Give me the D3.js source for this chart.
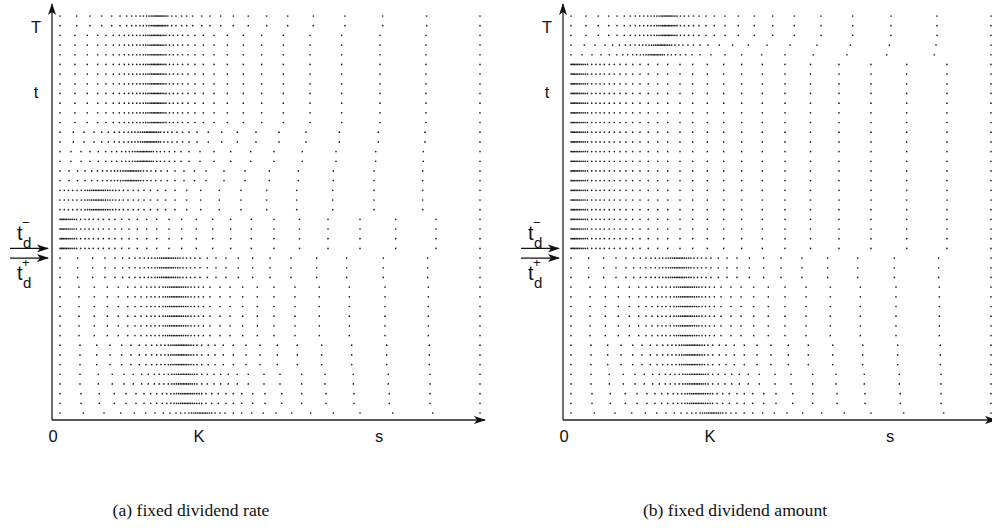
<!DOCTYPE html>
<html>
<head>
<meta charset="utf-8">
<script src="https://cdn.jsdelivr.net/npm/d3@7"></script>
<style>body{margin:0;background:#fff}</style>
</head>
<body>
<script>
const width = 992, height = 530;

// grid node positions along s for each time-level pattern (units: K = 146)
const gridA = [8, 24.7, 38, 49.7, 59.7, 68, 74.7, 79.7, 84, 88, 91.3,
  94.5, 97, 99.2, 101, 102.6, 104, 105.3, 106.6, 107.9, 109.2, 110.6, 112.1, 113.8, 115.8,
  119.7, 124, 129.7, 134.7, 140.7, 149.7, 158, 168.7, 181.3, 196.3, 214.7, 235.7, 261.3, 293, 330.7, 374.7, 428];
const gridB = [8, 23, 35.3, 45.7, 54, 61.3, 67.3, 72.3, 76.7, 80.7, 84.7, 88,
  91.3, 93.8, 96, 98, 99.7, 101.2, 102.6, 104, 105.4, 106.8, 108.3, 110, 111.9, 114,
  117.5, 121.3, 125.7, 130.5, 136, 143, 151.3, 162, 175.3, 191.3, 209.7, 231.3, 258, 289.7, 328, 374, 428];
const gridC = [8, 21.3, 32, 42, 49.7, 56.3, 62.3, 67.3, 72, 76.3, 79.7, 83,
  86, 88.5, 90.7, 92.6, 94.3, 95.8, 97.2, 98.6, 100, 101.5, 103, 104.7, 106.6, 108.6,
  112, 115.8, 120, 125, 130.5, 137, 145, 156.3, 169.7, 185.3, 204, 227, 254, 287.3, 326.3, 373, 428];
const gridD = [8, 19, 29, 38, 46.3, 53.7, 59.7, 64.7, 69.7, 73.7, 77.3,
  80.5, 83, 85.2, 87, 88.7, 90.2, 91.6, 93, 94.4, 95.9, 97.5, 99.3, 101.3,
  104.7, 108.3, 112.5, 117.3, 122.7, 129, 137, 148, 162, 178.7, 198.7, 222, 250.3, 284, 323.7, 371.3, 428];
const gridE = [8, 17, 25.5, 33, 39.7, 45.5, 50.5, 55, 59, 62.5, 65.5,
  68.5, 71, 73.2, 75.1, 76.8, 78.4, 79.9, 81.4, 83, 84.7, 86.6, 88.7,
  91.5, 95, 99, 103.7, 109, 115.3, 123, 132, 142.5, 154, 172, 193, 217.3, 246.3, 281.3, 322, 370.7, 428];
const gridF = [8, 12.3, 16.5, 20.7, 25, 29.3,
  33, 35.5, 37.7, 39.7, 41.5, 43.2, 44.8, 46.4, 48, 49.7, 51.5, 53.5, 55.7, 58,
  60.7, 63.7, 67.3, 71.3, 76, 81.3, 86.3, 92, 98.5, 105.5, 113.5, 123, 134.7, 148.7, 167.3, 189, 214.7, 244.7, 280.7, 322, 370.7, 428];
const gridG = [8, 9.2, 10.4, 11.7, 13.1, 14.6, 16.3, 18.1, 20.1, 22.2,
  24.5, 28.7, 33, 37, 41.3, 46.3, 51.3, 57, 63, 69.7, 77, 85.3, 94.7, 104.7, 117, 129.7, 144.3,
  160.7, 178.7, 199.3, 222, 247.5, 276, 308, 343.7, 384, 428];
const gridH1 = [8, 25.7, 40.7, 53, 63, 70.7, 77.3, 83, 88, 92.3, 96.3, 99.7,
  103, 105.5, 107.7, 109.7, 111.5, 113.2, 114.8, 116.4, 118, 119.7, 121.5, 123.5, 125.7, 128,
  131, 134.5, 138.5, 143, 148, 155.3, 164, 174, 186.3, 200.7, 218, 239, 264.7, 294.7, 331.3, 375.7, 428];
const gridH2 = [8, 27, 42.3, 55.3, 66.3, 75.7, 83, 89, 94.7, 99, 103, 107.3,
  111, 113.5, 115.7, 117.7, 119.5, 121.2, 122.8, 124.4, 126, 127.7, 129.5, 131.5, 133.7, 136,
  139, 142.5, 146.5, 151.3, 158, 168, 178, 190.7, 205.3, 222, 243, 267.3, 297.3, 333, 376.3, 428];
const gridH3 = [8, 28, 44.7, 58, 69.7, 79, 87.3, 94, 99.7, 104.7, 109, 113,
  116.3, 118.8, 121, 123, 124.8, 126.5, 128.1, 129.7, 131.3, 133, 134.8, 136.8, 139,
  141.5, 145, 149.7, 156.3, 163, 171.3, 181.3, 194, 208, 225.3, 245.3, 269.7, 299.7, 334.7, 377.3, 428];
const gridH4 = [8, 28, 46.3, 60.3, 72, 81.3, 89.7, 96.3, 102.3, 107.3, 112, 116.3,
  119.7, 122.2, 124.4, 126.4, 128.2, 129.9, 131.5, 133.1, 134.7, 136.4, 138.2, 140.2, 142.4,
  145, 149.7, 155.3, 162, 168.7, 176.3, 185.3, 196.3, 212, 228, 249.7, 273, 301.3, 336.3, 378, 428];
const gridH5 = [8, 29, 47.3, 62.3, 74, 84, 92, 98.7, 104.7, 110.3, 114.7, 118.7,
  122, 124.5, 126.7, 128.7, 130.5, 132.2, 133.8, 135.4, 137, 138.7, 140.5, 142.5, 144.7,
  147.2, 149.7, 154, 159.7, 166.3, 174, 181.3, 189.7, 200.7, 213, 229.7, 249.7, 274, 302, 337.3, 378, 428];
const gridH6 = [8, 31.3, 52, 68.7, 82.3, 93.7, 103, 111.3, 118, 124, 128.7, 133,
  137, 139.5, 141.7, 143.7, 145.5, 147.2, 148.8, 150.4, 152, 153.7, 155.5, 157.5, 159.7,
  163, 168, 173, 181.3, 189.7, 199.7, 211.3, 224, 239.7, 258.7, 281.3, 308, 340.7, 380.7, 428];

const patterns = {A: gridA, B: gridB, C: gridC, D: gridD, E: gridE, F: gridF, G: gridG,
  H1: gridH1, H2: gridH2, H3: gridH3, H4: gridH4, H5: gridH5, H6: gridH6};

// time levels from T (top) down to 0: [pattern, number of rows]
const rowsRate = [['A', 2], ['B', 10], ['C', 2], ['D', 2], ['E', 2], ['F', 3], ['G', 4],
  ['H1', 3], ['H2', 6], ['H3', 3], ['H4', 2], ['H5', 2], ['H6', 1]];
const rowsAmount = [['B', 3], ['C', 1], ['D', 1], ['G', 20],
  ['H1', 3], ['H2', 6], ['H3', 3], ['H4', 2], ['H5', 2], ['H6', 1]];

const sLabels = [{text: '0', s: 0}, {text: 'K', s: 146}, {text: 's', s: 326}];
const tLabels = [{text: 'T', row: 1.1}, {text: 't', row: 7.9}];
const tdRows = [24, 25];

const panels = [
  {ox: 52, rows: rowsRate, caption: '(a) fixed dividend rate', cx: 191},
  {ox: 563, rows: rowsAmount, caption: '(b) fixed dividend amount', cx: 735}
];

const svg = d3.select('body').append('svg')
  .attr('width', width)
  .attr('height', height)
  .attr('viewBox', `0 0 ${width} ${height}`);

svg.append('rect').attr('width', width).attr('height', height).attr('fill', '#fff');

const defs = svg.append('defs');
defs.append('marker')
  .attr('id', 'arrow')
  .attr('viewBox', '0 0 12 8')
  .attr('refX', 11).attr('refY', 4)
  .attr('markerWidth', 12).attr('markerHeight', 8)
  .attr('markerUnits', 'userSpaceOnUse')
  .attr('orient', 'auto')
  .append('path')
  .attr('d', 'M0,0 L12,4 L0,8 L3,4 Z')
  .attr('fill', '#111');

const axisY = 420;
const y = d3.scaleLinear().domain([0, 41]).range([16, 413]);
const sans = 'Liberation Sans, Arial, sans-serif';

panels.forEach(p => {
  const x = d3.scaleLinear().domain([0, 433]).range([p.ox, p.ox + 433]);
  const g = svg.append('g');

  // expand runs into rows
  const rowData = [];
  p.rows.forEach(([key, n]) => {
    for (let i = 0; i < n; i++) rowData.push(key);
  });
  const dots = [];
  rowData.forEach((key, r) => {
    patterns[key].forEach(s => dots.push({s, r}));
  });

  g.selectAll('circle')
    .data(dots)
    .join('circle')
    .attr('cx', d => x(d.s))
    .attr('cy', d => y(d.r))
    .attr('r', 0.85)
    .attr('fill', '#222');

  // axes
  g.append('line')
    .attr('x1', x(0)).attr('y1', axisY)
    .attr('x2', x(0)).attr('y2', 4)
    .attr('stroke', '#222').attr('stroke-width', 1.3)
    .attr('marker-end', 'url(#arrow)');
  g.append('line')
    .attr('x1', x(0)).attr('y1', axisY)
    .attr('x2', x(433)).attr('y2', axisY)
    .attr('stroke', '#222').attr('stroke-width', 1.3)
    .attr('marker-end', 'url(#arrow)');

  g.selectAll('text.s')
    .data(sLabels)
    .join('text')
    .attr('class', 's')
    .attr('x', d => x(d.s) + 1)
    .attr('y', 442)
    .attr('text-anchor', 'middle')
    .attr('font-family', sans)
    .attr('font-size', 16.5)
    .attr('fill', '#111')
    .text(d => d.text);

  g.selectAll('text.t')
    .data(tLabels)
    .join('text')
    .attr('class', 't')
    .attr('x', p.ox - 16)
    .attr('y', d => y(d.row) + 6)
    .attr('text-anchor', 'middle')
    .attr('font-family', sans)
    .attr('font-size', 16.5)
    .attr('fill', '#111')
    .text(d => d.text);

  // dividend date arrows
  tdRows.forEach(r => {
    g.append('line')
      .attr('x1', p.ox - 42).attr('y1', y(r))
      .attr('x2', p.ox - 4).attr('y2', y(r))
      .attr('stroke', '#111').attr('stroke-width', 1.3)
      .attr('marker-end', 'url(#arrow)');
  });
  const lab = (yy, sign) => {
    const t = g.append('text')
      .attr('font-family', sans)
      .attr('fill', '#111');
    t.append('tspan').attr('x', p.ox - 35).attr('y', yy).attr('font-size', 20).text('t');
    t.append('tspan').attr('x', p.ox - 30).attr('y', yy - 13).attr('font-size', 13).text(sign);
    t.append('tspan').attr('x', p.ox - 29).attr('y', yy + 8).attr('font-size', 15).text('d');
  };
  lab(y(tdRows[0]) - 8, '\u2212');
  lab(y(tdRows[1]) + 22, '+');

  svg.append('text')
    .attr('x', p.cx)
    .attr('y', 516)
    .attr('text-anchor', 'middle')
    .attr('font-family', 'Liberation Serif, Times New Roman, serif')
    .attr('font-size', 17.6)
    .attr('fill', '#111')
    .text(p.caption);
});
</script>
</body>
</html>
